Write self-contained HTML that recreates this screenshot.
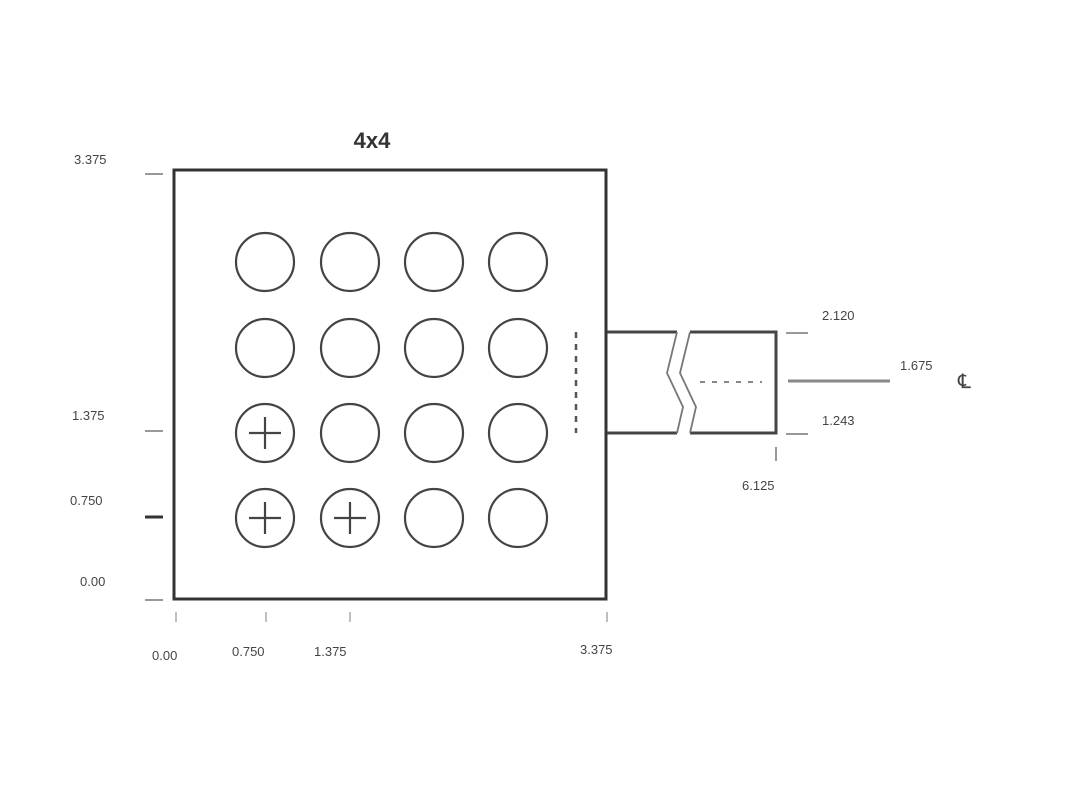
<!DOCTYPE html>
<html><head><meta charset="utf-8"><style>
html,body{margin:0;padding:0;background:#fff;}
svg{display:block;}
text{font-family:"Liberation Sans",sans-serif;fill:#444;}
</style></head><body>
<svg width="1072" height="794" viewBox="0 0 1072 794" xmlns="http://www.w3.org/2000/svg">
<rect width="1072" height="794" fill="#fff"/>
<text x="372" y="148" font-size="22" font-weight="bold" text-anchor="middle" style="fill:#333">4x4</text>
<rect x="174" y="170" width="432" height="429" fill="none" stroke="#333" stroke-width="3"/>
<g fill="none" stroke="#444" stroke-width="2.2">
<circle cx="265" cy="262" r="29"/><circle cx="350" cy="262" r="29"/><circle cx="434" cy="262" r="29"/><circle cx="518" cy="262" r="29"/>
<circle cx="265" cy="348" r="29"/><circle cx="350" cy="348" r="29"/><circle cx="434" cy="348" r="29"/><circle cx="518" cy="348" r="29"/>
<circle cx="265" cy="433" r="29"/><circle cx="350" cy="433" r="29"/><circle cx="434" cy="433" r="29"/><circle cx="518" cy="433" r="29"/>
<circle cx="265" cy="518" r="29"/><circle cx="350" cy="518" r="29"/><circle cx="434" cy="518" r="29"/><circle cx="518" cy="518" r="29"/>
<path d="M249 433h32M265 417v32M249 518h32M265 502v32M334 518h32M350 502v32"/>
</g>
<g stroke="#999" stroke-width="2">
<path d="M145 174h18M145 431h18M145 600h18"/>
</g>
<path d="M145 517h18" stroke="#333" stroke-width="3"/>
<g stroke="#aaa" stroke-width="1.5"><path d="M176 612v10M266 612v10M350 612v10M607 612v10"/></g>
<g font-size="13">
<text x="74" y="164">3.375</text>
<text x="72" y="420">1.375</text>
<text x="70" y="505">0.750</text>
<text x="80" y="586">0.00</text>
<text x="152" y="660">0.00</text>
<text x="232" y="656">0.750</text>
<text x="314" y="656">1.375</text>
<text x="580" y="654">3.375</text>
<text x="822" y="320">2.120</text>
<text x="900" y="370">1.675</text>
<text x="822" y="425">1.243</text>
<text x="742" y="490">6.125</text>
</g>
<text x="958" y="388" font-size="20">℄</text>
<g fill="none" stroke="#444" stroke-width="3">
<path d="M607 332H677M607 433H677"/>
<path d="M690 332H776V433H690"/>
</g>
<g fill="none" stroke="#777" stroke-width="1.8">
<path d="M677 332L667 373L683 407L677 433"/>
<path d="M690 332L680 373L696 407L690 433"/>
</g>
<path d="M576 332V433" stroke="#555" stroke-width="2.5" stroke-dasharray="6 6"/>
<path d="M700 382H762" stroke="#888" stroke-width="2" stroke-dasharray="5 7"/>
<g stroke="#999" stroke-width="2"><path d="M786 333h22M786 434h22"/></g>
<path d="M788 381H890" stroke="#888" stroke-width="3"/>
<path d="M776 447v14" stroke="#777" stroke-width="1.5"/>
</svg>
</body></html>
